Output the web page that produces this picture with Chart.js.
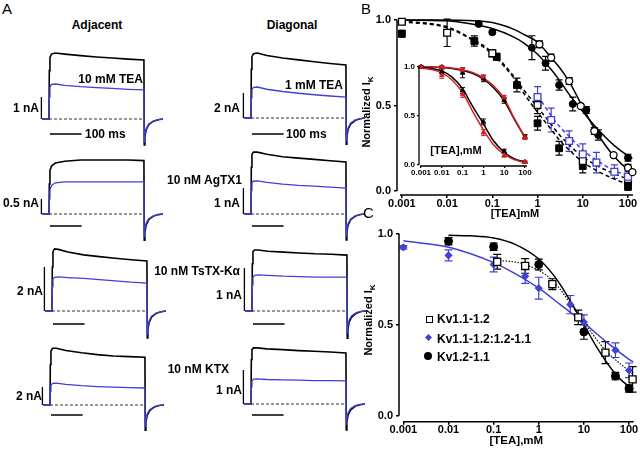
<!DOCTYPE html>
<html>
<head>
<meta charset="utf-8">
<script src="https://cdn.jsdelivr.net/npm/chart.js@4.4.0/dist/chart.umd.min.js"></script>
<style>
  body { margin: 0; background: #fff; }
  #fig { position: relative; width: 640px; height: 451px; overflow: hidden; background: #fff;
         font-family: 'Liberation Sans', Arial, Helvetica, sans-serif; color: #000; }
  #fig canvas { position: absolute; }
  .lbl { position: absolute; white-space: nowrap; font-weight: bold; font-size: 12px; line-height: 1; }
  .letter { position: absolute; font-size: 15px; line-height: 1; }
  .ytitle { position: absolute; white-space: nowrap; font-weight: bold; font-size: 11px; line-height: 1;
            transform: translate(-50%, -50%) rotate(-90deg); }
  .ytitle sub { font-size: 8px; }
  .mk { position: absolute; box-sizing: border-box; }
</style>
</head>
<body>
<div id="fig"></div>
<script>
// ---------- panel A: current traces (time in ms, current in nA) ----------
const traceTime = [-22, 0, 1, 3, 8, 20, 50, 100, 150, 200, 250, 300, 301, 303, 307, 315, 330, 345, 360];

const adjTeaCtrl    = [0, 0, 2.2, 2.8, 2.95, 3.0, 2.95, 2.88, 2.82, 2.77, 2.72, 2.68, -1.18, -0.8, -0.5, -0.26, -0.1, -0.03, 0];
const adjTeaToxin   = [0, 0, 1.0, 1.45, 1.57, 1.59, 1.53, 1.47, 1.43, 1.39, 1.35, 1.32, -1.05, -0.7, -0.44, -0.23, -0.09, -0.03, 0];
const diagTeaCtrl   = [0, 0, 3.9, 4.9, 5.15, 5.2, 5.0, 4.8, 4.65, 4.5, 4.36, 4.24, -2.1, -1.45, -0.9, -0.48, -0.18, -0.06, 0];
const diagTeaToxin  = [0, 0, 1.6, 2.3, 2.45, 2.48, 2.3, 2.12, 1.98, 1.86, 1.76, 1.68, -1.85, -1.25, -0.78, -0.4, -0.15, -0.05, 0];
const adjAgCtrl     = [0, 0, 1.0, 1.45, 1.6, 1.7, 1.76, 1.8, 1.8, 1.8, 1.8, 1.78, -0.87, -0.6, -0.37, -0.19, -0.07, -0.02, 0];
const adjAgToxin    = [0, 0, 0.5, 0.8, 0.95, 1.04, 1.07, 1.07, 1.07, 1.07, 1.07, 1.07, -0.75, -0.5, -0.31, -0.16, -0.06, -0.02, 0];
const diagAgCtrl    = [0, 0, 1.8, 2.3, 2.38, 2.38, 2.3, 2.2, 2.15, 2.1, 2.05, 2.0, -1.0, -0.68, -0.42, -0.22, -0.08, -0.02, 0];
const diagAgToxin   = [0, 0, 0.9, 1.2, 1.27, 1.27, 1.22, 1.15, 1.1, 1.07, 1.03, 1.0, -0.85, -0.58, -0.36, -0.19, -0.07, -0.02, 0];
const adjTsCtrl     = [0, 0, 2.0, 2.7, 2.82, 2.8, 2.68, 2.55, 2.47, 2.4, 2.33, 2.27, -1.23, -0.84, -0.52, -0.27, -0.1, -0.03, 0];
const adjTsToxin    = [0, 0, 1.1, 1.45, 1.53, 1.55, 1.52, 1.48, 1.43, 1.37, 1.31, 1.27, -1.05, -0.72, -0.44, -0.23, -0.09, -0.03, 0];
const diagTsCtrl    = [0, 0, 1.1, 1.38, 1.42, 1.42, 1.39, 1.37, 1.35, 1.33, 1.32, 1.3, -0.63, -0.43, -0.26, -0.14, -0.05, -0.01, 0];
const diagTsToxin   = [0, 0, 0.6, 0.78, 0.83, 0.84, 0.83, 0.81, 0.8, 0.79, 0.79, 0.79, -0.5, -0.34, -0.21, -0.11, -0.04, -0.01, 0];
const adjKtxCtrl    = [0, 0, 4.5, 6.0, 6.3, 6.3, 6.05, 5.8, 5.6, 5.45, 5.37, 5.3, -2.8, -1.9, -1.18, -0.62, -0.22, -0.06, 0];
const adjKtxToxin   = [0, 0, 1.5, 2.2, 2.4, 2.44, 2.3, 2.15, 2.05, 1.98, 1.93, 1.89, -2.4, -1.63, -1.0, -0.53, -0.19, -0.05, 0];
const diagKtxCtrl   = [0, 0, 1.3, 1.6, 1.65, 1.65, 1.62, 1.6, 1.57, 1.55, 1.53, 1.5, -0.76, -0.52, -0.32, -0.17, -0.06, -0.02, 0];
const diagKtxToxin  = [0, 0, 0.5, 0.68, 0.73, 0.74, 0.72, 0.71, 0.7, 0.69, 0.69, 0.68, -0.6, -0.41, -0.25, -0.13, -0.05, -0.01, 0];

// scale bars: current (nA) per cell, time bar (ms)
const cellBarNA = [1, 2, 0.5, 1, 2, 1, 2, 1];
const timeBar = [3, 103];
const baselineSpan = [0, 300];

// ---------- panel B ----------
const xTickValues = [0.001, 0.01, 0.1, 1, 10, 100];
const xTickLabels = ['0.001', '0.01', '0.1', '1', '10', '100'];
const yTickValues = [0, 0.5, 1];

const bOpenSqConc = [0.001, 0.01, 0.1, 1, 10, 100];
const bOpenSqVal  = [0.99, 0.925, 0.805, 0.503, 0.175, 0.07];
const bOpenSqErr  = [0.01, 0.08, 0.02, 0.05, 0.04, 0.03];
const bFilledSqConc = [0.001, 0.04, 0.125, 0.35, 1, 3, 10, 100];
const bFilledSqVal  = [0.92, 0.877, 0.785, 0.62, 0.396, 0.25, 0.146, 0.025];
const bFilledSqErr  = [0.02, 0.03, 0.02, 0.04, 0.04, 0.04, 0.04, 0.02];
const bFilledCircConc = [0.05, 0.1, 0.75, 1.5, 3, 6, 12, 22, 100];
const bFilledCircVal  = [0.977, 0.928, 0.838, 0.747, 0.62, 0.509, 0.474, 0.327, 0.195];
const bFilledCircErr  = [0.01, 0.01, 0.07, 0.04, 0.03, 0.04, 0.02, 0.03, 0.02];
const bOpenCircConc = [1.1, 2, 5, 9, 18, 48, 100, 125];
const bOpenCircVal  = [0.858, 0.78, 0.643, 0.497, 0.351, 0.21, 0.136, 0.11];
const bOpenCircErr  = [0.02, 0.02, 0.02, 0.01, 0.02, 0.01, 0.02, 0.01];
const bBlueSqConc = [1, 2, 5, 10, 20, 50, 100];
const bBlueSqVal  = [0.55, 0.415, 0.292, 0.215, 0.166, 0.113, 0.084];
const bBlueSqErr  = [0.06, 0.07, 0.06, 0.06, 0.06, 0.04, 0.04];

const bFitConc        = [0.001, 0.01, 0.03, 0.1, 0.3, 0.5, 1, 2, 3, 5, 10, 20, 50, 100, 125];
const bFitOpenCirc    = [1.0, 1.0, 0.997, 0.985, 0.945, 0.915, 0.87, 0.78, 0.725, 0.64, 0.49, 0.345, 0.2, 0.125, 0.108];
const bFitFilledCirc  = [1.0, 0.995, 0.98, 0.95, 0.9, 0.865, 0.8, 0.71, 0.65, 0.565, 0.465, 0.37, 0.265, 0.205, 0.19];
const bFitOpenSq      = [0.995, 0.96, 0.9, 0.81, 0.67, 0.59, 0.49, 0.39, 0.33, 0.27, 0.2, 0.15, 0.1, 0.07, null];
const bFitFilledSq    = [0.99, 0.955, 0.895, 0.8, 0.66, 0.57, 0.46, 0.36, 0.3, 0.24, 0.17, 0.12, 0.07, 0.04, null];
const bFitBlueSq      = [null, null, null, null, null, null, 0.56, 0.44, 0.38, 0.32, 0.24, 0.18, 0.12, 0.09, null];

// inset of B
const insetConc = [0.001, 0.01, 0.1, 1, 10, 100];
const insetBlackLeft    = [1.0, 0.95, 0.76, 0.44, 0.14, 0.03];
const insetBlackLeftErr = [0.01, 0.02, 0.03, 0.03, 0.02, 0.01];
const insetRedLeft      = [1.0, 0.915, 0.72, 0.33, 0.1, 0.03];
const insetRedLeftErr   = [0.01, 0.03, 0.03, 0.03, 0.02, 0.01];
const insetBlackRight    = [1.0, 1.0, 0.94, 0.88, 0.66, 0.29];
const insetBlackRightErr = [0.01, 0.01, 0.05, 0.03, 0.03, 0.02];
const insetRedRight      = [1.0, 1.0, 0.97, 0.9, 0.69, 0.28];
const insetRedRightErr   = [0.01, 0.01, 0.02, 0.02, 0.02, 0.02];
const insetFitConc       = [0.001, 0.003, 0.01, 0.03, 0.1, 0.3, 1, 3, 10, 30, 100];
const insetFitBlackLeft  = [0.995, 0.985, 0.96, 0.9, 0.78, 0.6, 0.42, 0.25, 0.13, 0.065, 0.03];
const insetFitRedLeft    = [0.99, 0.975, 0.94, 0.87, 0.74, 0.55, 0.36, 0.21, 0.11, 0.055, 0.025];
const insetFitBlackRight = [1.0, 1.0, 0.995, 0.985, 0.965, 0.935, 0.875, 0.79, 0.655, 0.47, 0.28];
const insetFitRedRight   = [1.0, 1.0, 0.997, 0.99, 0.972, 0.945, 0.89, 0.81, 0.68, 0.48, 0.285];

// ---------- panel C ----------
const cSeriesNames = ['Kv1.1-1.2', 'Kv1.1-1.2:1.2-1.1', 'Kv1.2-1.1'];
const cOpenSqConc = [0.12, 0.5, 2, 7.5, 30, 120];
const cOpenSqVal  = [0.845, 0.822, 0.722, 0.54, 0.347, 0.2];
const cOpenSqErr  = [0.04, 0.04, 0.03, 0.04, 0.06, 0.07];
const cDiamondConc = [0.001, 0.01, 0.1, 0.5, 1, 5, 10, 50, 100];
const cDiamondVal  = [0.924, 0.88, 0.83, 0.766, 0.7, 0.61, 0.514, 0.36, 0.25];
const cDiamondErr  = [0.01, 0.03, 0.04, 0.04, 0.06, 0.05, 0.04, 0.04, 0.04];
const cCircConc = [0.01, 0.1, 1, 10, 50, 100];
const cCircVal  = [0.958, 0.928, 0.83, 0.46, 0.218, 0.15];
const cCircErr  = [0.02, 0.02, 0.03, 0.04, 0.02, 0.02];

const cFitBlueConc = [0.001, 0.003, 0.01, 0.03, 0.1, 0.3, 1, 3, 10, 30, 100, 125];
const cFitBlueVal  = [0.96, 0.945, 0.925, 0.89, 0.84, 0.78, 0.7, 0.61, 0.51, 0.41, 0.31, 0.295];
const cFitBlackConc = [0.01, 0.03, 0.1, 0.3, 1, 2, 3, 5, 10, 20, 50, 100, 125];
const cFitBlackVal  = [0.99, 0.987, 0.975, 0.94, 0.86, 0.78, 0.72, 0.63, 0.5, 0.37, 0.23, 0.16, 0.145];
const cDotConc = [0.1, 0.5, 2, 7.4, 29, 117];
const cDotVal  = [0.855, 0.83, 0.743, 0.558, 0.364, 0.232];

// ---------- setup ----------
const BLUE = '#4040d4';
const RED = '#d42020';
const fig = document.getElementById('fig');

Chart.defaults.font.family = "'Liberation Sans', Arial, Helvetica, sans-serif";
Chart.defaults.font.weight = 'bold';
Chart.defaults.color = '#000';
Chart.defaults.animation = false;

function makeCanvas(left, top, w, h) {
    const c = document.createElement('canvas');
    c.width = w; c.height = h;
    c.style.left = left + 'px'; c.style.top = top + 'px';
    c.style.width = w + 'px'; c.style.height = h + 'px';
    fig.appendChild(c);
    return c;
}

function addText(html, x, y, align, cls, style) {
    const d = document.createElement('div');
    d.className = cls || 'lbl';
    d.innerHTML = html;
    d.style.left = x + 'px';
    d.style.top = y + 'px';
    if (cls !== 'ytitle') {
        const tx = align === 'right' ? '-100%' : align === 'center' ? '-50%' : '0';
        d.style.transform = 'translate(' + tx + ', -50%)';
    }
    if (style) Object.assign(d.style, style);
    fig.appendChild(d);
    return d;
}

const pts = (xs, ys) => xs.map((x, i) => ({ x: x, y: ys[i] }));

// error bars drawn under the markers, through the chart's scales
const errorBarPlugin = {
    id: 'errorBars',
    beforeDatasetsDraw(chart) {
        const ctx = chart.ctx;
        const xs = chart.scales.x, ys = chart.scales.y;
        chart.data.datasets.forEach(ds => {
            if (!ds.errors) return;
            ctx.save();
            ctx.strokeStyle = ds.borderColor;
            ctx.lineWidth = ds.errWidth || 1.2;
            const cap = ds.capHalf || 3.5;
            ds.data.forEach((p, j) => {
                const e = ds.errors[j];
                const x = xs.getPixelForValue(p.x);
                const y1 = ys.getPixelForValue(p.y - e);
                const y2 = ys.getPixelForValue(p.y + e);
                ctx.beginPath();
                ctx.moveTo(x, y1); ctx.lineTo(x, y2);
                ctx.moveTo(x - cap, y1); ctx.lineTo(x + cap, y1);
                ctx.moveTo(x - cap, y2); ctx.lineTo(x + cap, y2);
                ctx.stroke();
            });
            ctx.restore();
        });
    }
};

// prism-style offset axes
const axisLinePlugin = {
    id: 'axisLines',
    afterDraw(chart, args, opts) {
        const { ctx, chartArea, scales } = chart;
        ctx.save();
        ctx.strokeStyle = '#000';
        ctx.lineWidth = opts.width || 1.5;
        ctx.beginPath();
        ctx.moveTo(chartArea.left, scales.y.getPixelForValue(1));
        ctx.lineTo(chartArea.left, scales.y.getPixelForValue(0));
        ctx.moveTo(chartArea.left + (opts.gap || 0), chartArea.bottom);
        ctx.lineTo(chartArea.right, chartArea.bottom);
        ctx.stroke();
        ctx.restore();
    }
};

// ---------- panel A ----------
const cellTraces = [
    [adjTeaCtrl, adjTeaToxin], [diagTeaCtrl, diagTeaToxin],
    [adjAgCtrl, adjAgToxin], [diagAgCtrl, diagAgToxin],
    [adjTsCtrl, adjTsToxin], [diagTsCtrl, diagTsToxin],
    [adjKtxCtrl, adjKtxToxin], [diagKtxCtrl, diagKtxToxin]
];
// layout: pulse onset x, baseline y, px per nA, gap of time bar below baseline
const cellLayout = [
    { px: 49, by: 119, ppn: 22, gap: 15 }, { px: 251, by: 118, ppn: 12.5, gap: 16 },
    { px: 49, by: 214, ppn: 30, gap: 12 }, { px: 251, by: 214, ppn: 26, gap: 12 },
    { px: 52, by: 311, ppn: 22, gap: 13 }, { px: 252, by: 311, ppn: 43, gap: 13 },
    { px: 50, by: 405, ppn: 9, gap: 10 },  { px: 251, by: 404, ppn: 34, gap: 11 }
];
const MS_PER_PX = 3.16;

cellLayout.forEach((lay, i) => {
    const w = 130, h = 100, above = 72;
    const cv = makeCanvas(lay.px - 10, lay.by - above, w, h);
    const [ctrl, toxin] = cellTraces[i];
    const barY = -lay.gap / lay.ppn;
    new Chart(cv, {
        type: 'scatter',
        data: {
            datasets: [
                { data: pts(traceTime, toxin), showLine: true, borderColor: BLUE, borderWidth: 1.3, pointRadius: 0, clip: false, order: 0 },
                { data: pts(traceTime, ctrl), showLine: true, borderColor: '#000', borderWidth: 1.6, pointRadius: 0, clip: false, order: 1 },
                { data: pts(baselineSpan, [0, 0]), showLine: true, borderColor: '#333', borderWidth: 1, borderDash: [3, 2], pointRadius: 0, clip: false, order: 2 },
                { data: pts([-24, -24], [0, cellBarNA[i]]), showLine: true, borderColor: '#000', borderWidth: 1.3, pointRadius: 0, clip: false, order: 3 },
                { data: pts(timeBar, [barY, barY]), showLine: true, borderColor: '#000', borderWidth: 1.6, pointRadius: 0, clip: false, order: 3 }
            ]
        },
        options: {
            responsive: false, animation: false,
            layout: { padding: 0 },
            plugins: { legend: { display: false }, tooltip: { enabled: false } },
            scales: {
                x: { type: 'linear', display: false, min: -10 * MS_PER_PX, max: (w - 10) * MS_PER_PX },
                y: { type: 'linear', display: false, min: -(h - above) / lay.ppn, max: above / lay.ppn }
            }
        }
    });
});

addText('A', 2, 8, 'left', 'letter');
addText('Adjacent', 97, 25, 'center');
addText('Diagonal', 292, 25, 'center');
addText('10 mM TEA', 143, 79, 'right');
addText('1 nA', 39, 108, 'right');
addText('100 ms', 85, 134, 'left');
addText('2 nA', 240, 108, 'right');
addText('1 mM TEA', 343, 85, 'right');
addText('100 ms', 286, 134, 'left');
addText('0.5 nA', 39, 203, 'right');
addText('10 nM AgTX1', 242, 180, 'right');
addText('1 nA', 240, 203, 'right');
addText('2 nA', 43, 291, 'right');
addText('10 nM TsTX-K&alpha;', 240, 271, 'right');
addText('1 nA', 242, 295, 'right');
addText('2 nA', 42, 396, 'right');
addText('10 nM KTX', 229, 369, 'right');
addText('1 nA', 242, 390, 'right');

// ---------- log dose-response axes ----------
function doseOptions(c) {
    const gridCfg = { display: true, drawOnChartArea: false, drawTicks: true, tickLength: c.tick, color: '#000', lineWidth: c.lw };
    return {
        responsive: false, animation: false,
        layout: { padding: c.padding },
        plugins: { legend: { display: false }, tooltip: { enabled: false }, axisLines: { gap: c.gap, width: c.lw } },
        scales: {
            x: {
                type: 'logarithmic', min: c.xmin, max: c.xmax,
                afterBuildTicks: s => { s.ticks = xTickValues.map(v => ({ value: v })); },
                afterFit: s => { s.height = c.xh; },
                grid: gridCfg, border: { display: false },
                ticks: { autoSkip: false, maxRotation: 0, minRotation: 0, padding: c.tpad,
                         font: { size: c.fs, lineHeight: 1 }, callback: (v, i) => xTickLabels[i] },
                title: { display: !!c.xtitle, text: c.xtitle || '', font: { size: c.tfs || 11, lineHeight: 1 },
                         padding: { top: 0, bottom: c.tbot || 0 } }
            },
            y: {
                type: 'linear', min: c.ymin, max: 1,
                afterBuildTicks: s => { s.ticks = yTickValues.map(v => ({ value: v })); },
                afterFit: s => { s.width = c.yw; },
                grid: gridCfg, border: { display: false },
                ticks: { padding: c.ypad, font: { size: c.fs, lineHeight: 1 }, callback: v => Number(v).toFixed(1) }
            }
        }
    };
}

function markerSet(xs, ys, errs, style, extra) {
    return Object.assign({ data: pts(xs, ys), errors: errs, showLine: false, clip: false, order: 0 }, style, extra || {});
}
function curveSet(xs, ys, color, dash, width) {
    return { data: pts(xs, ys), showLine: true, borderColor: color, borderWidth: width || 1.5, borderDash: dash || [],
             pointRadius: 0, clip: false, order: 1, cubicInterpolationMode: 'monotone', spanGaps: false };
}

// ---------- panel B ----------
const cvB = makeCanvas(360, 0, 280, 225);
new Chart(cvB, {
    type: 'scatter',
    data: {
        datasets: [
            markerSet(bOpenCircConc, bOpenCircVal, bOpenCircErr,
                { pointStyle: 'circle', pointRadius: 3.5, backgroundColor: '#fff', borderColor: '#000', borderWidth: 1.3 }),
            markerSet(bFilledCircConc, bFilledCircVal, bFilledCircErr,
                { pointStyle: 'circle', pointRadius: 3.5, backgroundColor: '#000', borderColor: '#000', borderWidth: 1 }),
            markerSet(bBlueSqConc, bBlueSqVal, bBlueSqErr,
                { pointStyle: 'rect', pointRadius: 4.8, backgroundColor: '#fff', borderColor: BLUE, borderWidth: 1.3 }),
            markerSet(bOpenSqConc, bOpenSqVal, bOpenSqErr,
                { pointStyle: 'rect', pointRadius: 4.8, backgroundColor: '#fff', borderColor: '#000', borderWidth: 1.3 }),
            markerSet(bFilledSqConc, bFilledSqVal, bFilledSqErr,
                { pointStyle: 'rect', pointRadius: 4.8, backgroundColor: '#000', borderColor: '#000', borderWidth: 1 }),
            curveSet(bFitConc, bFitOpenCirc, '#000'),
            curveSet(bFitConc, bFitFilledCirc, '#000'),
            curveSet(bFitConc, bFitOpenSq, '#000', [4, 3]),
            curveSet(bFitConc, bFitFilledSq, '#000', [4, 3]),
            curveSet(bFitConc, bFitBlueSq, BLUE, [4, 3])
        ]
    },
    options: doseOptions({ padding: { top: 20, right: 7, left: 0, bottom: 0 }, yw: 37, xh: 30,
        ymin: -0.0234, xmin: 0.00078, xmax: 129, tick: 3, tpad: 0, ypad: 3, fs: 11, lw: 1.5, gap: 3,
        xtitle: '[TEA]mM', tfs: 11, tbot: 6 }),
    plugins: [errorBarPlugin, axisLinePlugin]
});

// inset
const cvIn = makeCanvas(395, 55, 145, 130);
new Chart(cvIn, {
    type: 'scatter',
    data: {
        datasets: [
            markerSet(insetConc, insetRedLeft, insetRedLeftErr,
                { pointStyle: 'triangle', pointRadius: 2.6, backgroundColor: RED, borderColor: RED, borderWidth: 1 }, { capHalf: 2.5, errWidth: 1 }),
            markerSet(insetConc, insetBlackLeft, insetBlackLeftErr,
                { pointStyle: 'triangle', pointRadius: 2.6, backgroundColor: '#000', borderColor: '#000', borderWidth: 1 }, { capHalf: 2.5, errWidth: 1 }),
            markerSet(insetConc, insetRedRight, insetRedRightErr,
                { pointStyle: 'triangle', pointRadius: 2.6, backgroundColor: RED, borderColor: RED, borderWidth: 1 }, { capHalf: 2.5, errWidth: 1 }),
            markerSet(insetConc, insetBlackRight, insetBlackRightErr,
                { pointStyle: 'triangle', pointRadius: 2.6, backgroundColor: '#000', borderColor: '#000', borderWidth: 1 }, { capHalf: 2.5, errWidth: 1 }),
            curveSet(insetFitConc, insetFitRedLeft, RED, [], 1.5),
            curveSet(insetFitConc, insetFitBlackLeft, '#000', [], 1.5),
            curveSet(insetFitConc, insetFitRedRight, RED, [], 1.5),
            curveSet(insetFitConc, insetFitBlackRight, '#000', [], 1.5)
        ]
    },
    options: doseOptions({ padding: { top: 12, right: 13, left: 0, bottom: 0 }, yw: 24, xh: 19,
        ymin: -0.01, xmin: 0.0008, xmax: 125, tick: 2, tpad: 1, ypad: 2, fs: 8, lw: 1.3, gap: 1 }),
    plugins: [errorBarPlugin, axisLinePlugin]
});
addText('[TEA],mM', 456, 150, 'center', 'lbl', { fontSize: '11px' });

// ---------- panel C ----------
const cvC = makeCanvas(360, 225, 280, 226);
new Chart(cvC, {
    type: 'scatter',
    data: {
        datasets: [
            markerSet(cCircConc, cCircVal, cCircErr,
                { pointStyle: 'circle', pointRadius: 4, backgroundColor: '#000', borderColor: '#000', borderWidth: 1 }, { capHalf: 4 }),
            markerSet(cOpenSqConc, cOpenSqVal, cOpenSqErr,
                { pointStyle: 'rect', pointRadius: 5, backgroundColor: '#fff', borderColor: '#000', borderWidth: 1.3 }, { capHalf: 4 }),
            markerSet(cDiamondConc, cDiamondVal, cDiamondErr,
                { pointStyle: 'rectRot', pointRadius: 3.6, backgroundColor: BLUE, borderColor: BLUE, borderWidth: 1 }, { capHalf: 4 }),
            curveSet(cFitBlackConc, cFitBlackVal, '#000', [], 1.5),
            curveSet(cFitBlueConc, cFitBlueVal, BLUE, [], 1.5),
            curveSet(cDotConc, cDotVal, '#000', [1.5, 1.5], 1.1)
        ]
    },
    options: doseOptions({ padding: { top: 3, right: 6, left: 0, bottom: 0 }, yw: 39, xh: 29.3,
        ymin: -0.032, xmin: 0.0008, xmax: 127, tick: 3, tpad: 0, ypad: 3, fs: 11, lw: 1.5, gap: 4,
        xtitle: '[TEA],mM', tfs: 11.5, tbot: 4 }),
    plugins: [errorBarPlugin, axisLinePlugin]
});

// legend of C
const sq = document.createElement('div');
sq.className = 'mk';
Object.assign(sq.style, { left: '426px', top: '315.5px', width: '7px', height: '7px', border: '1.3px solid #000', background: '#fff' });
fig.appendChild(sq);
const dm = document.createElement('div');
dm.className = 'mk';
Object.assign(dm.style, { left: '425.5px', top: '335px', width: '5px', height: '5px', background: BLUE, transform: 'rotate(45deg)' });
fig.appendChild(dm);
const ci = document.createElement('div');
ci.className = 'mk';
Object.assign(ci.style, { left: '424px', top: '352px', width: '8px', height: '8px', borderRadius: '50%', background: '#000' });
fig.appendChild(ci);
addText(cSeriesNames[0], 437, 319, 'left');
addText(cSeriesNames[1], 437, 338.5, 'left');
addText(cSeriesNames[2], 437, 357, 'left');

// panel letters and y titles
addText('B', 361, 8, 'left', 'letter');
addText('C', 363, 212, 'left', 'letter');
addText('Normalized I<sub>K</sub>', 368, 112, 'center', 'ytitle');
addText('Normalized I<sub>K</sub>', 370, 320, 'center', 'ytitle');
</script>
</body>
</html>
